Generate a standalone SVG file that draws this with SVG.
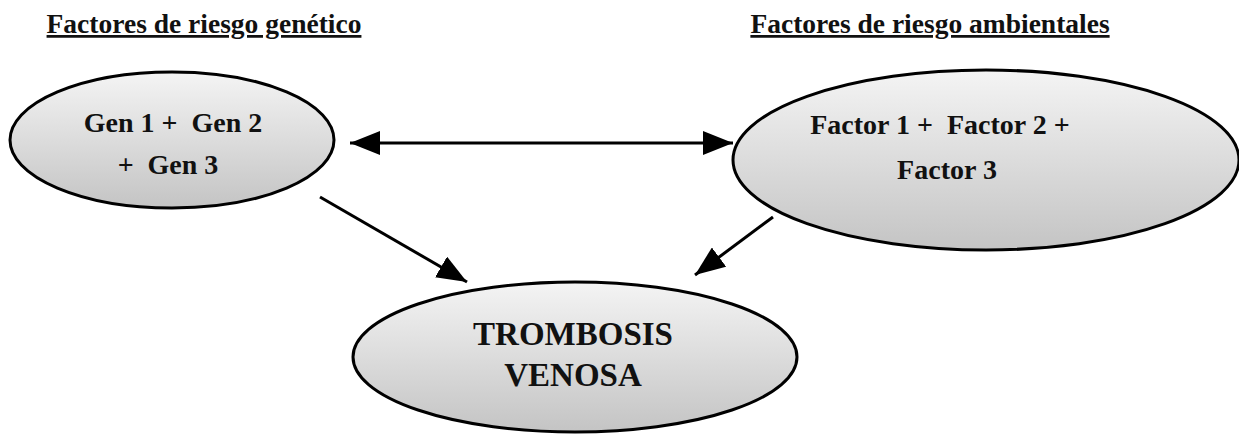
<svg xmlns="http://www.w3.org/2000/svg" width="1239" height="435" viewBox="0 0 1239 435">
<style>
.node ellipse{fill:url(#g);stroke:#000;stroke-width:3}
text{font-family:"Liberation Serif","Times New Roman",serif;font-weight:bold;fill:#111;text-anchor:middle;white-space:pre}
.t{font-size:27.5px;text-decoration:underline}
.n{font-size:28px}
.b{font-size:33px}
.c line{stroke:#000;stroke-width:3}
</style>
<defs>
<linearGradient id="g" x1="0" y1="0" x2="0" y2="1">
<stop offset="0" stop-color="#f4f4f4"/>
<stop offset="1" stop-color="#c4c4c4"/>
</linearGradient>
<marker id="b" viewBox="0 0 30 24" refX="30" refY="12" markerWidth="30" markerHeight="24" markerUnits="userSpaceOnUse" orient="auto-start-reverse">
<path d="M0,0 L30,12 L0,24 z" fill="#000"/>
</marker>
</defs>
<text class="t" x="204" y="33">Factores de riesgo genético</text>
<text class="t" x="930" y="33">Factores de riesgo ambientales</text>
<g id="genes" class="node">
<ellipse cx="172" cy="140" rx="162" ry="68"/>
<text class="n" x="173" y="132" xml:space="preserve">Gen 1 +  Gen 2</text>
<text class="n" x="168" y="174" xml:space="preserve">+  Gen 3</text>
</g>
<g id="ambientales" class="node">
<ellipse cx="986" cy="160" rx="253" ry="90"/>
<text class="n" x="940" y="134" xml:space="preserve">Factor 1 +  Factor 2 +</text>
<text class="n" x="947" y="179">Factor 3</text>
</g>
<g id="trombosis" class="node">
<ellipse cx="575" cy="357" rx="222" ry="75"/>
<text class="b" x="573" y="345">TROMBOSIS</text>
<text class="b" x="573" y="386">VENOSA</text>
</g>
<g id="connectors" class="c">
<line x1="350" y1="143" x2="733" y2="143" marker-start="url(#b)" marker-end="url(#b)"/>
<line x1="320" y1="197" x2="467" y2="282" marker-end="url(#b)"/>
<line x1="773" y1="217" x2="695" y2="275" marker-end="url(#b)"/>
</g>
</svg>
